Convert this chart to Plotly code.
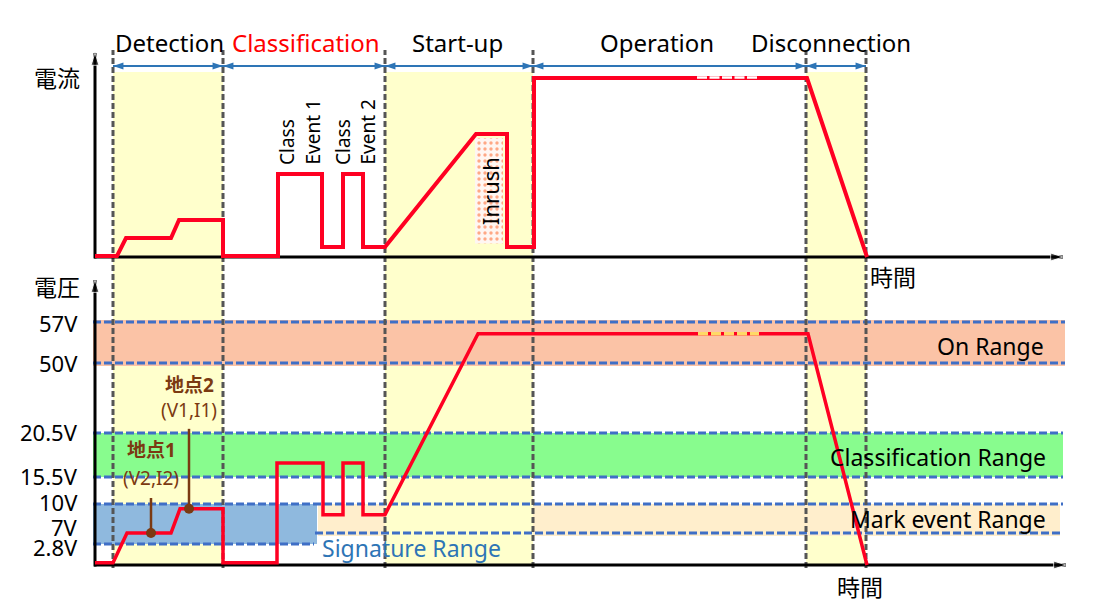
import numpy as np
import plotly.graph_objects as go

# ---------------- data ----------------
phase_names = ["Detection", "Classification", "Start-up", "Operation", "Disconnection"]
phase_colors = ["#000000", "#FF0000", "#000000", "#000000", "#000000"]
phase_edges = [18, 128, 290, 438, 711, 771]          # time (a.u.)
shaded_phases = [0, 2, 4]                             # Detection, Start-up, Disconnection
phase_label_t = [74, 211, 362, 562, 736]

# current waveform (a.u., 100 = operating current)
cur_t = [0, 22, 31, 76, 84, 128, 128, 183, 183, 227, 227, 248, 248, 268, 268, 290,
         381, 412, 412, 439, 439, 712, 772]
cur_i = [0.6, 0.6, 10.6, 10.6, 20.7, 20.7, 0.6, 0.6, 46.4, 46.4, 5.6, 5.6, 46.4, 46.4,
         5.6, 5.6, 68.7, 68.7, 5.6, 5.6, 100, 100, 0]
cur_gap_t = [602, 662]
cur_gap_i = [100, 100]
inrush_t = [380, 408, 408, 380, 380]
inrush_i = [66.5, 66.5, 7.5, 7.5, 66.5]
class_labels = ["Class", "Event 1", "Class", "Event 2"]
class_label_t = [192, 218, 248, 273]

# voltage waveform (V)
volt_t = [0, 18, 32, 76, 85, 128, 128, 182, 182, 228, 228, 248, 248, 268, 268, 290,
          383, 713, 772]
volt_v = [0.3, 0.3, 7, 7, 9.5, 9.5, 0.3, 0.3, 17.1, 17.1, 8.9, 8.9, 17.1, 17.1,
          8.9, 8.9, 55, 55, 0]
volt_gap_t = [603, 664]
volt_gap_v = [55, 55]

v_ticks = [2.8, 7, 10, 15.5, 20.5, 50, 57]
v_tick_text = ["2.8V", "7V", "10V", "15.5V", "20.5V", "50V", "57V"]

on_range = (50, 57)
classification_range = (15.5, 20.5)
signature_range = (2.8, 10)
mark_range = (7, 10)

point_names = ["地点1", "地点2"]
point_subs = ["(V2,I2)", "(V1,I1)"]
point_t = [56, 94]
point_v = [7, 9.5]

# ---------------- scales / layout helpers ----------------
W, H = 1091, 596    # page adds an 8px body margin
T0_PX = 87          # pixel column of time origin (inside the figure)
K_I = 1.79          # px per current unit
I0_PX = 249         # pixel row of zero current
V0_PX = 557         # pixel row of zero voltage
T_END = 968         # end of time axes
I_TOP = 114         # top of current axis
V_TOP = 70          # top of voltage axis (V)

# broken (schematic) voltage scale
V_BREAK = [0, 2.8, 7, 10, 15.5, 20.5, 50, 57, 70]
D_BREAK = [0, 21, 32, 61, 88, 132, 202, 243, 285]


def vpos(v):
    return float(np.interp(v, V_BREAK, D_BREAK))


FONT = "Noto Sans, Noto Sans CJK JP, sans-serif"
RED = "#FF0022"
BLUE_DASH = "#3F6FC6"
ARROW_BLUE = "#2E75B6"
GRAY = "#555555"
BROWN = "#7B3A12"
YELLOW = "#FFFFCC"

fig = go.Figure()

# ---------------- shapes ----------------
shapes = []
Y_SHADE_TOP = 493   # display units on y2
for p in shaded_phases:
    shapes.append(dict(type="rect", xref="x", yref="y2", x0=phase_edges[p], x1=phase_edges[p + 1],
                       y0=0, y1=Y_SHADE_TOP, fillcolor=YELLOW, line=dict(width=0), layer="below"))

SIG_END = 222
BAND_START = -2
# mark event band
for x0, x1 in [(SIG_END + 1, phase_edges[2]), (phase_edges[3], T_END - 3)]:
    shapes.append(dict(type="rect", xref="x", yref="y2", x0=x0, x1=x1,
                       y0=vpos(mark_range[0]) - 3, y1=vpos(mark_range[1]),
                       fillcolor="#FFEECC", line=dict(width=0), layer="below"))
# on range
shapes.append(dict(type="rect", xref="x", yref="y2", x0=BAND_START, x1=T_END + 2,
                   y0=vpos(on_range[0]) - 3, y1=vpos(on_range[1]) + 2,
                   fillcolor="#FBC3A6", line=dict(width=0), layer="below"))
# classification range
shapes.append(dict(type="rect", xref="x", yref="y2", x0=BAND_START, x1=T_END,
                   y0=vpos(classification_range[0]), y1=vpos(classification_range[1]),
                   fillcolor="#88FC8E", line=dict(width=0), layer="below"))
# signature range
shapes.append(dict(type="rect", xref="x", yref="y2", x0=BAND_START, x1=SIG_END,
                   y0=vpos(signature_range[0]), y1=vpos(signature_range[1]),
                   fillcolor="#8FB9DE", line=dict(width=0), layer="below"))

# dashed boundary lines
dash_lines = [
    (on_range[1], BAND_START, T_END + 2),
    (on_range[0], BAND_START, T_END + 2),
    (classification_range[1], BAND_START, T_END),
    (classification_range[0], BAND_START, T_END),
    (signature_range[1], BAND_START, T_END),
    (signature_range[0], BAND_START, SIG_END - 3),
    (mark_range[0], SIG_END - 2, T_END),
]
for v, x0, x1 in dash_lines:
    shapes.append(dict(type="line", xref="x", yref="y2", x0=x0, x1=x1, y0=vpos(v), y1=vpos(v),
                       line=dict(color=BLUE_DASH, width=3, dash="8px,3px"), layer="below"))

# phase boundaries
for e in phase_edges:
    shapes.append(dict(type="line", xref="x", yref="y2", x0=e, x1=e, y0=-3, y1=515,
                       line=dict(color=GRAY, width=3, dash="6px,3px"), layer="below"))

# ---------------- traces ----------------
# axes
fig.add_trace(go.Scatter(x=[-1, T_END], y=[0, 0], mode="lines+markers", yaxis="y",
                         line=dict(color="black", width=3),
                         marker=dict(symbol="arrow", size=[0, 13], angle=[0, 90], color="black"),
                         hoverinfo="skip"))
fig.add_trace(go.Scatter(x=[0, 0], y=[-0.8, I_TOP], mode="lines+markers", yaxis="y",
                         line=dict(color="black", width=3),
                         marker=dict(symbol="arrow", size=[0, 13], angle=[0, 0], color="black"),
                         hoverinfo="skip"))
fig.add_trace(go.Scatter(x=[-1, T_END + 3], y=[0, 0], mode="lines+markers", yaxis="y2",
                         line=dict(color="black", width=3),
                         marker=dict(symbol="arrow", size=[0, 13], angle=[0, 90], color="black"),
                         hoverinfo="skip"))
fig.add_trace(go.Scatter(x=[0, 0], y=[-1.5, vpos(V_TOP)], mode="lines+markers", yaxis="y2",
                         line=dict(color="black", width=3),
                         marker=dict(symbol="arrow", size=[0, 13], angle=[0, 0], color="black"),
                         hoverinfo="skip"))

# phase span arrows
Y_ARROW = 106.7
for i in range(len(phase_names)):
    fig.add_trace(go.Scatter(x=[phase_edges[i], phase_edges[i + 1]], y=[Y_ARROW, Y_ARROW],
                             mode="lines+markers", yaxis="y",
                             line=dict(color=ARROW_BLUE, width=2),
                             marker=dict(symbol="arrow", size=11, angle=[-90, 90], color=ARROW_BLUE),
                             hoverinfo="skip"))

# inrush patch
fig.add_trace(go.Scatter(x=inrush_t, y=inrush_i, mode="lines", fill="toself", yaxis="y",
                         line=dict(width=0, color="rgba(0,0,0,0)"),
                         fillcolor="#FFF6F2",
                         fillpattern=dict(shape=".", fgcolor="#FF5A1A", bgcolor="#FFF6F2",
                                          size=6, solidity=0.25),
                         hoverinfo="skip"))

# current waveform
fig.add_trace(go.Scatter(x=cur_t, y=cur_i, mode="lines", yaxis="y",
                         line=dict(color=RED, width=4), hoverinfo="skip"))
fig.add_trace(go.Scatter(x=cur_gap_t, y=[c + 0.3 for c in cur_gap_i], mode="lines", yaxis="y",
                         line=dict(color="white", width=2.6, dash="10px,2.5px"), hoverinfo="skip"))

# voltage waveform
volt_d = [vpos(v) for v in volt_v]
fig.add_trace(go.Scatter(x=volt_t, y=volt_d, mode="lines", yaxis="y2",
                         line=dict(color=RED, width=3.5), hoverinfo="skip"))
fig.add_trace(go.Scatter(x=volt_gap_t, y=[vpos(v) for v in volt_gap_v], mode="lines", yaxis="y2",
                         line=dict(color="#FFD966", width=3.5, dash="10px,3px"), hoverinfo="skip"))

# measurement point callouts
callout_len = [35, 80]
for t, v, L in zip(point_t, point_v, callout_len):
    fig.add_trace(go.Scatter(x=[t, t], y=[vpos(v), vpos(v) + L], mode="lines", yaxis="y2",
                             line=dict(color=BROWN, width=2.5), hoverinfo="skip"))
fig.add_trace(go.Scatter(x=point_t, y=[vpos(v) for v in point_v], mode="markers", yaxis="y2",
                         marker=dict(color=BROWN, size=10), hoverinfo="skip"))

# ---------------- annotations ----------------
ann = []


def text(x, y, s, yref="y", size=23, color="black", xanchor="center", yanchor="middle",
         angle=0, yshift=0):
    ann.append(dict(x=x, y=y, xref="x", yref=yref, text=s, showarrow=False,
                    font=dict(family=FONT, size=size, color=color),
                    xanchor=xanchor, yanchor=yanchor, textangle=angle, yshift=yshift))


Y_PHASE_LABEL = 119.6
for name, col, t in zip(phase_names, phase_colors, phase_label_t):
    text(t, Y_PHASE_LABEL, name, color=col, size=24)

text(-38, 100, "電流")
text(798, -11.2, "時間")
text(-38, 278, "電圧", yref="y2")
text(765, -22, "時間", yref="y2")

label_shift = [-3, 6, 2, 1, 1, 0, -1]
for v, s, sh in zip(v_ticks, v_tick_text, label_shift):
    text(-15, vpos(v), s, yref="y2", xanchor="right", yshift=sh, size=22)

for s, t in zip(class_labels, class_label_t):
    text(t, 50.3, s, size=19, angle=-90, yanchor="bottom")
text(395, 36.9, "Inrush", size=22, angle=-90)

text(951, (vpos(on_range[0]) + vpos(on_range[1])) / 2, "On Range", yref="y2",
     xanchor="right", yshift=-3)
text(953, (vpos(classification_range[0]) + vpos(classification_range[1])) / 2,
     "Classification Range", yref="y2", xanchor="right", yshift=-2)
text(953, (vpos(mark_range[0]) + vpos(mark_range[1])) / 2, "Mark event Range", yref="y2",
     xanchor="right")
text(225, 17, "Signature Range", yref="y2", xanchor="left", color=ARROW_BLUE)

name_y = [115, 180]
sub_y = [87, 155]
for n, s, t, ny, sy in zip(point_names, point_subs, point_t, name_y, sub_y):
    text(t, ny, "<b>" + n + "</b>", yref="y2", size=19, color=BROWN)
    text(t, sy, s, yref="y2", size=19, color=BROWN)

fig.update_layout(
    width=W, height=H, margin=dict(l=0, r=0, t=0, b=0),
    paper_bgcolor="white", plot_bgcolor="white", showlegend=False,
    xaxis=dict(range=[-T0_PX, W - T0_PX], domain=[0, 1], visible=False, fixedrange=True),
    yaxis=dict(range=[(I0_PX - H) / K_I, I0_PX / K_I], domain=[0, 1], visible=False),
    yaxis2=dict(range=[V0_PX - H, V0_PX], overlaying="y", visible=False),
    shapes=shapes, annotations=ann,
    font=dict(family=FONT),
)

fig.write_html("out.html", config={"displayModeBar": False})
